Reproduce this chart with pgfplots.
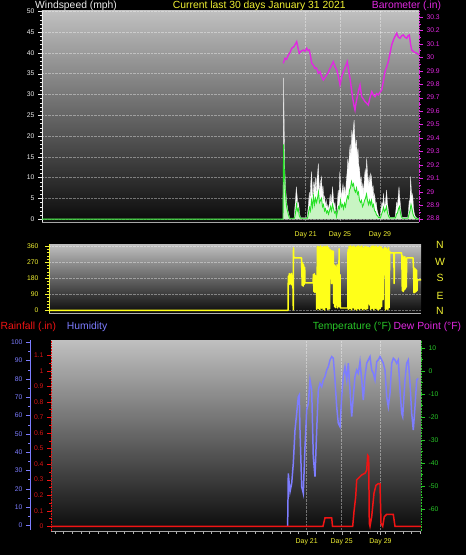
\documentclass[border=0pt]{standalone}
\usepackage{fontspec}
\setmainfont{Liberation Sans}
\usepackage{pgfplots}
\pgfplotsset{compat=1.18}

\definecolor{wtext}{RGB}{235,235,235}
\definecolor{ylw}{RGB}{240,240,50}
\definecolor{mag}{RGB}{225,40,225}
\definecolor{rainred}{RGB}{240,20,20}
\definecolor{rainlab}{RGB}{215,20,20}
\definecolor{humblue}{RGB}{125,125,255}
\definecolor{tmpgreen}{RGB}{40,200,40}
\definecolor{palegreen}{RGB}{200,245,195}
\definecolor{brightgreen}{RGB}{40,225,40}
\definecolor{gradtop}{RGB}{192,192,192}
\definecolor{gradbot}{RGB}{10,10,10}
\definecolor{dirylw}{RGB}{255,255,25}

\pgfplotsset{
  base/.style={scale only axis, anchor=north west,
    tick label style={font=\fontsize{6.8}{7}\selectfont},
    /pgf/number format/assume math mode=true,
    tick align=outside, major tick length=4bp, minor tick length=2bp},
  bg/.style={axis background/.style={top color=gradtop, bottom color=gradbot},
    major grid style={densely dotted, white, opacity=0.38, line width=0.5pt}},
  daylab/.style={xticklabel style={ylw, font=\fontsize{7}{8}\selectfont}},
}

\begin{document}
\begin{tikzpicture}
\useasboundingbox (0,0) rectangle (466bp,-555bp);
\fill[black] (0,0) rectangle (466bp,-555bp);

% ---------------- top panel: wind and barometer
\begin{axis}[base, bg, daylab, at={(42bp,-10.5bp)}, width=377bp, height=211.5bp,
  xmin=42, xmax=419, ymin=-0.7, ymax=50.2,
  axis x line*=bottom, axis y line*=left,
  x axis line style={gray!70, -}, y axis line style={wtext, -, line width=0.6pt},
  ytick={0,5,...,50}, minor y tick num=4,
  ytick style={wtext}, yticklabel style={wtext},
  xtick={305.7,340,380}, xticklabels={Day 21,Day 25,Day 29},
  xtick style={draw=none}, xticklabel style={yshift=-2.5bp},
  xmajorgrids, ymajorgrids]
\addplot[draw=white!85!gray, fill=white, line width=0.3pt] coordinates {
(42,0)(283,0)(283.6,34)(284.3,20)(284.8,12)(285.5,8)(286.2,5.5)(287,3.5)(288,2)(289,1)(290,0)(294,0)
(294.8,2.5)(295.6,5)(296.3,7.8)(297,6)(297.8,3)(298.6,4)(299.5,1.5)(300.5,0.3)(307,0.3)(307.8,2)
(308.6,4)(309.3,6.5)(310,4)(310.8,9)(311.6,11.4)(312.3,7)(313,5)(313.8,9)(314.5,7)(315.3,10)
(316.1,6)(316.8,9.5)(317.6,11)(318.3,13.4)(319,9)(319.8,6.5)(320.6,9)(321.5,10.2)(322.2,6)(323,8)
(323.8,4.5)(324.6,5.5)(325.4,3)(326.2,4.5)(327,2.5)(327.8,3.5)(328.6,2)(329.4,4)(330.2,6)(331,3.5)
(331.8,5.5)(332.6,7.8)(333.4,5)(334.2,3)(335,4)(335.8,1.5)(336.6,1)(337.4,4)(338.2,7)(339,5)
(339.8,11.4)(340.6,8)(341.4,5)(342.2,7)(343,8.5)(343.8,6)(344.6,7.8)(345.4,5.5)(346.2,9)(347,11)
(347.8,14.5)(348.6,12)(349.4,16)(350.2,18)(351,15)(351.8,21.4)(352.6,19)(353.4,22)(354.1,23.8)
(354.8,20)(355.6,17)(356.4,19)(357.2,15)(358,17)(358.8,13)(359.6,12)(360.4,9)(361.2,10)(362,7)
(362.8,8.5)(363.6,6)(364.4,10)(365.2,12)(366,10.5)(366.7,14.6)(367.5,11)(368.3,8)(369.1,10.5)
(369.9,8.5)(370.7,11)(371.5,10)(372.3,7)(373.1,8)(373.9,5)(374.7,6)(375.5,3.5)(376.3,4)(377.1,2.2)
(377.9,1.5)(378.7,0.8)(379.5,0.5)(380.3,0.5)(381.1,2.5)(381.9,4)(382.7,3)(383.4,6.2)(384.2,4)
(385,3)(385.8,5)(386.6,7)(387.4,4)(388.2,2.5)(389,1)(390,0.4)(395,0.4)(395.8,2)(396.6,4)(397.4,3)
(398.2,5.5)(399,7.8)(399.8,5)(400.6,3)(401.4,1)(402.2,0.4)(407.8,0.4)(408.5,2)(409.2,4.5)
(409.9,3.5)(410.6,10.2)(411.3,7)(412,5)(412.7,6)(413.4,3)(414.2,1.5)(415,0.8)(416,0.4)(419,0)
} \closedcycle;
\addplot[draw=none, fill=palegreen] coordinates {
(42,0)(283,0)(283.6,18)(284.3,12)(285,8)(285.8,5)(286.6,3)(287.5,2)(288.5,1)(289.5,0.2)(294.5,0.2)
(295.5,1.5)(296.5,3.5)(297.4,2)(298.3,2.5)(299.3,0.8)(300.5,0.2)(307.5,0.2)(308.5,1.5)(309.5,2.8)
(310.5,2)(311.5,4.5)(312.5,3)(313.5,5.5)(314.5,3.5)(315.5,5)(316.5,4)(317.5,5)(318.5,6.5)(319.5,4)
(320.5,4.5)(321.5,5)(322.5,3)(323.5,3.5)(324.5,2)(325.5,2.5)(326.5,1.5)(327.5,2)(328.5,1.2)
(329.5,2)(330.5,3)(331.5,2)(332.5,3.5)(333.5,2.5)(334.5,1.5)(335.5,1.8)(336.5,0.6)(337.5,1.8)
(338.5,3)(339.5,2.5)(340.5,4.5)(341.5,3)(342.5,3.5)(343.5,2.5)(344.5,3.8)(345.5,3)(346.5,4.5)
(347.5,5.5)(348.5,5)(349.5,7)(350.5,7.5)(351.5,9)(352.5,8)(353.5,8.5)(354.5,7)(355.5,6.5)
(356.5,7.5)(357.5,6)(358.5,6.5)(359.5,4.5)(360.5,4)(361.5,4.5)(362.5,3)(363.5,3.5)(364.5,4.5)
(365.5,5)(366.5,6)(367.5,4.5)(368.5,3.5)(369.5,4.5)(370.5,3.5)(371.5,4.5)(372.5,3)(373.5,3.5)
(374.5,2)(375.5,1.8)(376.5,1)(377.5,0.8)(378.5,0.4)(380.5,0.3)(381.5,1.2)(382.5,1.8)(383.5,2.8)
(384.5,1.8)(385.5,2.2)(386.5,3)(387.5,1.5)(388.5,0.8)(389.5,0.3)(395.5,0.3)(396.5,1.2)(397.5,1.5)
(398.5,2.5)(399.5,3)(400.5,1.5)(401.5,0.5)(402.5,0.2)(408,0.2)(409,1.2)(410,2)(411,3.5)(412,2.5)
(413,1.2)(414,0.6)(415.5,0.2)(419,0)
} \closedcycle;
\addplot[brightgreen, line width=0.9pt] coordinates {
(42,0)(283,0)(283.6,18)(284.3,12)(285,8)(285.8,5)(286.6,3)(287.5,2)(288.5,1)(289.5,0.2)(294.5,0.2)
(295.5,1.5)(296.5,3.5)(297.4,2)(298.3,2.5)(299.3,0.8)(300.5,0.2)(307.5,0.2)(308.5,1.5)(309.5,2.8)
(310.5,2)(311.5,4.5)(312.5,3)(313.5,5.5)(314.5,3.5)(315.5,5)(316.5,4)(317.5,5)(318.5,6.5)(319.5,4)
(320.5,4.5)(321.5,5)(322.5,3)(323.5,3.5)(324.5,2)(325.5,2.5)(326.5,1.5)(327.5,2)(328.5,1.2)
(329.5,2)(330.5,3)(331.5,2)(332.5,3.5)(333.5,2.5)(334.5,1.5)(335.5,1.8)(336.5,0.6)(337.5,1.8)
(338.5,3)(339.5,2.5)(340.5,4.5)(341.5,3)(342.5,3.5)(343.5,2.5)(344.5,3.8)(345.5,3)(346.5,4.5)
(347.5,5.5)(348.5,5)(349.5,7)(350.5,7.5)(351.5,9)(352.5,8)(353.5,8.5)(354.5,7)(355.5,6.5)
(356.5,7.5)(357.5,6)(358.5,6.5)(359.5,4.5)(360.5,4)(361.5,4.5)(362.5,3)(363.5,3.5)(364.5,4.5)
(365.5,5)(366.5,6)(367.5,4.5)(368.5,3.5)(369.5,4.5)(370.5,3.5)(371.5,4.5)(372.5,3)(373.5,3.5)
(374.5,2)(375.5,1.8)(376.5,1)(377.5,0.8)(378.5,0.4)(380.5,0.3)(381.5,1.2)(382.5,1.8)(383.5,2.8)
(384.5,1.8)(385.5,2.2)(386.5,3)(387.5,1.5)(388.5,0.8)(389.5,0.3)(395.5,0.3)(396.5,1.2)(397.5,1.5)
(398.5,2.5)(399.5,3)(400.5,1.5)(401.5,0.5)(402.5,0.2)(408,0.2)(409,1.2)(410,2)(411,3.5)(412,2.5)
(413,1.2)(414,0.6)(415.5,0.2)(419,0)
};
\end{axis}

\begin{axis}[base, at={(42bp,-10.5bp)}, width=377bp, height=211.5bp,
  xmin=42, xmax=419, ymin=28.775, ymax=30.348,
  axis x line=none, axis y line*=right,
  y axis line style={mag, densely dotted, -, line width=0.6pt},
  ytick={28.8,28.9,29,29.1,29.2,29.3,29.4,29.5,29.6,29.7,29.8,29.9,30,30.1,30.2,30.3},
  minor y tick num=1, ytick style={mag}, yticklabel style={mag},
  yticklabel style={/pgf/number format/.cd, fixed, precision=1}]
\addplot[mag, line width=1.4pt] coordinates {
(283.3,29.955)(285,29.993)(286.5,29.985)(288.3,30.017)(290,30.035)(291.7,30.067)(294,30.08)
(296.7,30.116)(298,30.07)(299.3,30.030)(301,30.045)(303.3,30.054)(305,30.045)(306.7,30.067)
(308,30.05)(309.3,30.054)(310.5,30.01)(311.7,29.955)(313.5,29.94)(315,29.918)(316.5,29.92)
(318.3,29.881)(320,29.893)(321.5,29.86)(323.3,29.831)(325,29.85)(326.7,29.868)(328.5,29.89)
(330,29.918)(331.5,29.94)(333.3,29.967)(335,29.93)(336.7,29.906)(338.5,29.85)(340,29.794)
(341.5,29.85)(343.3,29.893)(345.5,29.93)(347.3,29.967)(348.7,29.9)(350,29.844)(351.5,29.76)
(352.7,29.695)(354,29.64)(355,29.608)(356,29.66)(357.3,29.707)(358.8,29.76)(360,29.794)
(361,29.74)(361.7,29.707)(363.3,29.69)(365,29.670)(366.5,29.66)(368.3,29.645)(370,29.70)
(371.7,29.744)(373.3,29.72)(375,29.707)(376.7,29.73)(378.3,29.720)(380,29.74)(381.7,29.757)
(383.3,29.82)(385,29.893)(386.7,29.93)(388.3,29.967)(390,30.03)(391.7,30.092)(394,30.14)
(396.7,30.179)(398.3,30.15)(400,30.141)(401.7,30.16)(403.3,30.166)(405,30.15)(406.7,30.141)
(408,30.16)(409.3,30.166)(410.5,30.1)(411.7,30.054)(414,30.04)(416.7,30.030)(419,30.017)
};
\end{axis}

% ---------------- middle panel: wind direction
\begin{axis}[base, bg, at={(49bp,-244bp)}, width=372bp, height=69bp,
  xmin=49, xmax=421, ymin=-15, ymax=371,
  axis x line*=bottom, axis y line*=left,
  x axis line style={gray!60, -}, y axis line style={ylw, -, line width=0.6pt},
  xtick=\empty, ytick={0,90,180,270,360}, minor y tick num=4,
  ytick style={ylw}, yticklabel style={ylw, xshift=-3bp},
  ymajorgrids]
\addplot[dirylw, line width=1.5pt, line join=round] coordinates {
(49,0)(288,0)(288.3,190)(288.8,150)(289.3,205)(289.8,145)(290.3,200)(290.8,150)(291.3,207)
(291.8,142)(292.3,195)(292.9,160)(293.3,3)(293.5,349)(293.8,293)(301.5,293)(301.7,248)(302.2,140)
(302.7,265)(303.2,135)(303.7,255)(304.2,145)(304.7,240)(305,153)(313,153)(313.4,200)(313.9,105)
(314.4,205)(314.9,100)(315.4,195)(315.9,110)(316.4,185)
(316.7,5)(317.5,358)(318.3,10)(319.1,355)(319.9,3)(320.7,360)(321.5,12)(322.3,352)(323.1,6)
(323.9,358)(324.7,2)(325.5,355)(326.3,15)(327.1,360)(327.9,4)(328.7,350)(329.5,8)(330,340)
(330.2,332)(331.5,332)(331.7,150)(332,332)(333.3,330)
(333.6,40)(334.1,255)(334.6,20)(335.1,250)(335.6,15)(336.1,240)(336.6,30)(337.1,255)(337.6,13)
(338.1,230)(338.6,40)(339.1,345)(339.4,20)(340,200)(340.3,13)(347.8,13)(348,340)
(348.3,5)(349.1,358)(349.9,10)(350.7,360)(351.5,3)(352.3,355)(353.1,14)(353.9,360)(354.7,6)
(355.5,352)(356.3,2)(357.1,358)(357.9,9)(358.7,360)(359.5,4)(360.3,355)(361.1,12)(361.9,360)
(362.7,3)(363.5,350)(364.3,8)(365.1,358)(365.9,5)(366.7,355)(367.5,10)(368.3,352)
(369,340)(369.5,30)(370,350)
(370.6,5)(371.4,358)(372.2,10)(373,360)(373.8,3)(374.6,355)(375.4,12)(376.2,360)(377,6)
(377.8,352)(378.6,2)(379.4,358)(380.2,9)(381,355)(381.7,20)
(382,345)(382.5,330)(383,60)(383.3,340)(384,200)(384.5,350)(385,345)
(385.5,3)(386.1,349)(386.7,10)(387.3,340)(387.9,5)(388.5,349)(389.1,15)(389.7,330)(390,321)
(393.8,321)(394.2,150)(394.5,321)(401.5,321)
(401.8,300)(402.3,110)(402.8,304)(403.3,105)(403.8,295)(404.3,115)(404.8,300)(405.3,120)
(405.8,290)(406.3,130)(406.7,293)(413,293)
(413.5,237)(414,97)(414.5,236)(415,100)(415.5,230)(416,105)(416.5,225)(417,110)(417.3,170)(421,170)
};
\end{axis}

% ---------------- bottom panel: humidity, rainfall, temperature
\begin{axis}[base, bg, daylab, at={(51bp,-340bp)}, width=370bp, height=191bp,
  xmin=51, xmax=421, ymin=-2.55, ymax=101.25,
  axis x line*=bottom, axis y line=none,
  x axis line style={gray!70, -, line width=0.8pt},
  ytick={10,20,...,100}, yticklabels={}, ytick style={draw=none},
  xtick={306.7,341.7,380.5}, xticklabels={Day 21,Day 25,Day 29},
  minor xtick={54.7,63.4,...,420}, xtick style={gray!60}, minor tick length=2.5bp,
  xmajorgrids, ymajorgrids]
\addplot[humblue, line width=1.5pt] coordinates {
(287.6,0)(287.9,10)(288.3,28.8)(290,18.8)(291.7,23.4)(293.3,34.2)(295,52.3)(296.7,61.4)(298.3,70.4)
(299.3,71.4)(300,52.3)(301.7,21.5)(303.3,17.9)(305,43.3)(306.7,63.2)(308.3,66.8)(310,79.5)
(311.7,74.1)(313.3,37.8)(315,27.0)(316.7,52.3)(318.3,74.1)(320,77.7)(321.7,75.9)(323.3,79.5)
(325,81.3)(326.7,84.9)(328.3,86.7)(330,90.4)(331.7,92.2)(333.3,91.3)(335,79.5)(336.7,65.0)
(338.3,56.0)(340,54.1)(341.7,70.4)(343.3,81.3)(345,86.7)(346.7,79.5)(348.3,88.6)(350,74.1)
(351.7,59.6)(353.3,70.4)(355,81.3)(356.7,84.9)(358.3,83.2)(360,89.5)(361.7,79.5)(363.3,68.6)
(365,81.3)(366.7,88.6)(368.3,90.4)(370,92.2)(371.7,84.9)(373.3,83.2)(375,79.5)(376.7,89.5)
(378.3,90.4)(380,92.2)(381.7,90.4)(383.3,88.6)(385,84.9)(386.7,70.4)(388.3,65.0)(390,72.3)
(391.7,88.6)(393.3,91.3)(395,90.4)(396.7,88.6)(398.3,90.4)(400,74.1)(401.7,61.4)(402.7,59.6)
(405,79.5)(406.7,88.6)(408.3,90.4)(410,77.7)(411.7,61.4)(413.3,52.3)(415,65.0)(416.7,79.5)(418.3,80.4)
};
\end{axis}

\begin{axis}[base, at={(51bp,-340bp)}, width=370bp, height=191bp,
  xmin=51, xmax=421, ymin=-0.030, ymax=1.197,
  axis x line=none, axis y line*=left,
  y axis line style={rainred, densely dotted, -, line width=0.6pt},
  ytick={0,0.1,0.2,0.3,0.4,0.5,0.6,0.7,0.8,0.9,1,1.1}, minor y tick num=1,
  ytick style={rainred}, yticklabel style={rainlab}]
\addplot[rainred, line width=1.5pt] coordinates {
(51,0)(323,0)(325,0.055)(331.7,0.055)(332.5,0)(352.7,0)(354,0.094)(355.7,0.190)(356.7,0.298)
(358.3,0.308)(361.7,0.330)(365,0.341)(366.7,0.360)(367.7,0.456)(368.7,0.447)(369.3,0.019)(370,0)
(371.7,0.062)(374,0.212)(376,0.264)(378.3,0.274)(380,0.274)(381,0.019)(382.7,0)(384.3,0.062)
(386.7,0.077)(393.3,0.077)(395,0)(421,0)
};
\end{axis}

\begin{axis}[base, at={(51bp,-340bp)}, width=370bp, height=191bp,
  xmin=51, xmax=421, ymin=-69.5, ymax=13.34,
  axis x line=none, axis y line*=right,
  y axis line style={tmpgreen, densely dotted, -, line width=0.6pt},
  ytick={-60,-50,-40,-30,-20,-10,0,10}, minor y tick num=1,
  ytick style={tmpgreen}, yticklabel style={tmpgreen}]
\end{axis}

\begin{axis}[base, at={(30bp,-340bp)}, width=0.5bp, height=190bp,
  xmin=0, xmax=1, ymin=-2.55, ymax=101.25,
  axis x line=none, axis y line*=left,
  y axis line style={humblue, -, line width=0.8pt},
  ytick={0,10,...,100}, minor y tick num=1,
  ytick style={humblue}, yticklabel style={humblue}]
\end{axis}

% ---------------- texts
\begin{scope}[every node/.style={inner sep=0pt, font=\fontsize{10.4}{11}\selectfont}]
\node[anchor=base west, text=wtext] at (35bp,-8.7bp) {Windspeed (mph)};
\node[anchor=base west, text=ylw] at (172.7bp,-8.7bp) {Current last 30 days January 31 2021};
\node[anchor=base west, text=mag] at (371.7bp,-8.7bp) {Barometer (.in)};
\node[anchor=base west, text=rainred] at (0.5bp,-329bp) {Rainfall (.in)};
\node[anchor=base west, text=humblue] at (66.7bp,-329bp) {Humidity};
\node[anchor=base west, text=tmpgreen] at (312.7bp,-329bp) {Temperature (°F)};
\node[anchor=base west, text=mag] at (393.5bp,-329bp) {Dew Point (°F)};
\end{scope}
\begin{scope}[every node/.style={inner sep=0pt, text=ylw, font=\fontsize{10.5}{11}\selectfont}]
\node at (440bp,-245bp) {N};
\node at (440bp,-261.7bp) {W};
\node at (440bp,-278bp) {S};
\node at (440bp,-295.7bp) {E};
\node at (440bp,-311bp) {N};
\end{scope}
\end{tikzpicture}
\end{document}
